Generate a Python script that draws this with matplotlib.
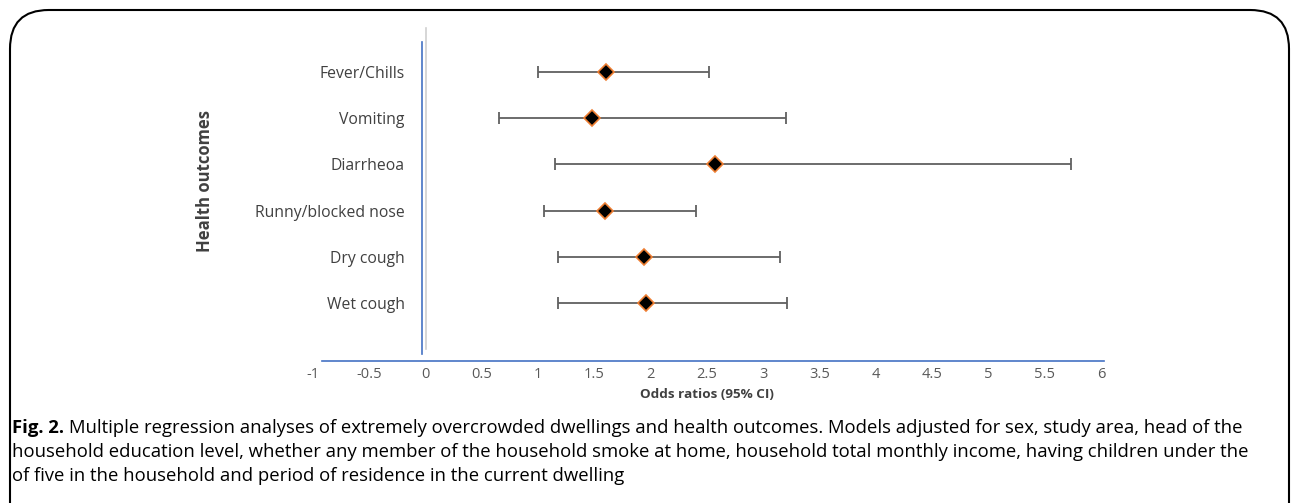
import numpy as np
import matplotlib.pyplot as plt
from matplotlib.patches import FancyBboxPatch

# data
outcomes = ["Fever/Chills", "Vomiting", "Diarrheoa", "Runny/blocked nose", "Dry cough", "Wet cough"]
odds = [1.60, 1.48, 2.57, 1.59, 1.94, 1.96]
lower = [1.00, 0.65, 1.15, 1.05, 1.18, 1.18]
upper = [2.52, 3.20, 5.73, 2.40, 3.15, 3.21]
xticks = [-1, -0.5, 0, 0.5, 1, 1.5, 2, 2.5, 3, 3.5, 4, 4.5, 5, 5.5, 6]

W, H = 1293, 503
fig = plt.figure(figsize=(W / 100, H / 100), dpi=100)
plt.rcParams['font.family'] = ['Open Sans', 'DejaVu Sans']

# rounded frame around the figure
frame = FancyBboxPatch((10 / W, -0.2), (W - 14) / W, 1 - 10 / H + 0.2,
                       boxstyle="round,pad=0,rounding_size=0.03",
                       transform=fig.transFigure, fill=False, ec='black', lw=1.5,
                       mutation_aspect=W / H)
fig.patches.append(frame)

ax = fig.add_axes([313 / W, 1 - 361 / H, 788 / W, 319 / H])
ypos = np.arange(len(outcomes))[::-1] + 1

odds_a = np.array(odds)
err = [odds_a - np.array(lower), np.array(upper) - odds_a]
ax.errorbar(odds, ypos, xerr=err, fmt='none', ecolor='#606060', elinewidth=1.3,
            capsize=4.5, capthick=1.3, zorder=2)
ax.plot(odds, ypos, 'D', ms=8, mfc='black', mec='#ED7D31', mew=1.2, zorder=3, ls='none')

ax.set_xlim(-1, 6)
ax.set_ylim(-0.26, 6.65)
for s in ax.spines.values():
    s.set_visible(False)

# axis lines in Excel style
ax.plot([-0.92, 6.03], [-0.26, -0.26], color='#4472C4', lw=1.2, clip_on=False)
ax.plot([-0.03, -0.03], [-0.1, 6.65], color='#4472C4', lw=1.2, clip_on=False)
ax.plot([0.0, 0.0], [0.0, 6.95], color='#D0D0D0', lw=1.2, clip_on=False)

ax.set_xticks(xticks)
ax.set_xticklabels([('%g' % t) for t in xticks], color='#595959', fontsize=10.5)
ax.tick_params(axis='x', length=0, pad=4)
ax.set_yticks(ypos)
ax.set_yticklabels(outcomes, fontsize=11.3, color='#404040')
ax.tick_params(axis='y', length=0, pad=-66)

ax.set_xlabel("Odds ratios (95% CI)", fontsize=9.7, fontweight='bold', color='#404040', labelpad=5)
fig.text(205 / W, 1 - 181 / H, "Health outcomes", rotation=90, ha='center', va='center',
         fontsize=12, fontweight='bold', color='#404040')

# caption
cap = ["household education level, whether any member of the household smoke at home, household total monthly income, having children under the",
       "of five in the household and period of residence in the current dwelling"]
t = fig.text(12 / W, 1 - 428 / H, "Fig. 2.", fontsize=13.3, fontweight='bold', va='center')
fig.canvas.draw()
bb = t.get_window_extent()
fig.text((bb.x1 + 5) / W, 1 - 428 / H,
         "Multiple regression analyses of extremely overcrowded dwellings and health outcomes. Models adjusted for sex, study area, head of the",
         fontsize=13.3, va='center')
fig.text(12 / W, 1 - 452 / H, cap[0], fontsize=13.3, va='center')
fig.text(12 / W, 1 - 476 / H, cap[1], fontsize=13.3, va='center')

fig.savefig("out.png", dpi=100)
